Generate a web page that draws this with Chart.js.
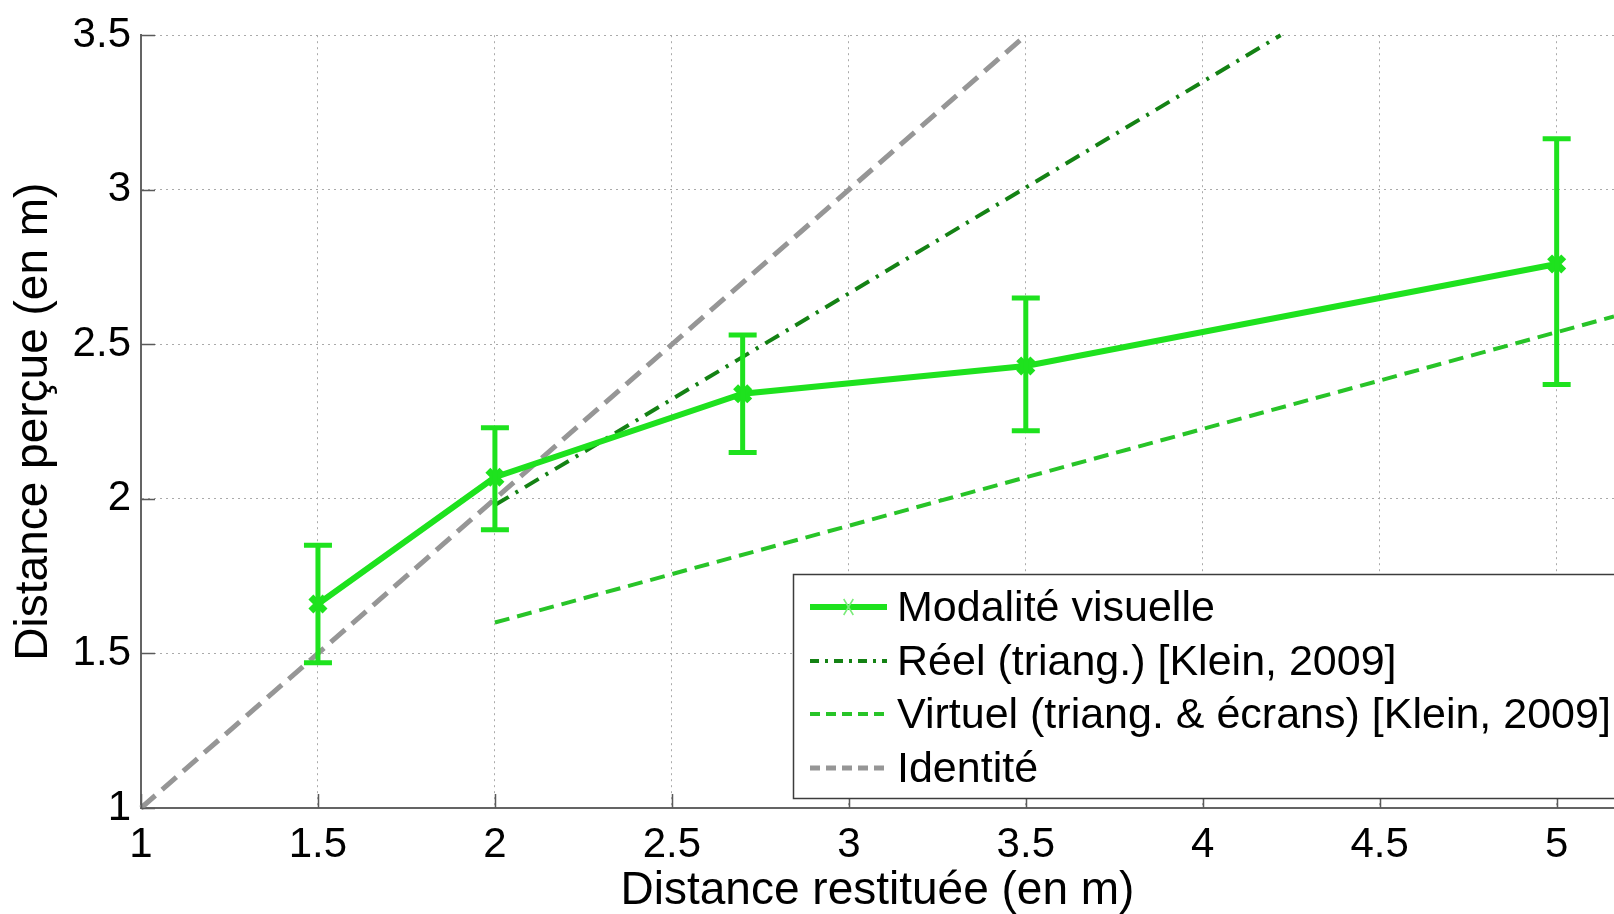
<!DOCTYPE html>
<html lang="fr">
<head>
<meta charset="utf-8">
<title>Distance perçue en fonction de la distance restituée</title>
<script src="https://cdn.jsdelivr.net/npm/chart.js@4/dist/chart.umd.min.js"></script>
<style>
  html, body { margin: 0; padding: 0; background: #ffffff; overflow: hidden; }
  #wrap { position: relative; width: 1614px; height: 914px; }
</style>
</head>
<body>
<div id="wrap"><canvas id="graphe" width="1614" height="914"></canvas></div>
<script>
// Modalité visuelle : moyennes et bornes des barres d'erreur
const distRestituee = [1.5, 2, 2.7, 3.5, 5];
const distPercue    = [1.66, 2.07, 2.34, 2.43, 2.76];
const borneBasse    = [1.47, 1.90, 2.15, 2.22, 2.37];
const borneHaute    = [1.85, 2.23, 2.53, 2.65, 3.165];

// Réel (triangulation) [Klein, 2009]
const reelX = [2, 4.22];
const reelY = [1.98, 3.5];

// Virtuel (triangulation & écrans) [Klein, 2009]
const virtuelX = [2, 5.162];
const virtuelY = [1.6, 2.59];

// Identité
const identiteX = [1, 3.5];
const identiteY = [1, 3.5];

// Graduations
const ticksX = [1, 1.5, 2, 2.5, 3, 3.5, 4, 4.5, 5];
const ticksY = [1, 1.5, 2, 2.5, 3, 3.5];

const libelles = [
  'Modalité visuelle',
  'Réel (triang.) [Klein, 2009]',
  'Virtuel (triang. & écrans) [Klein, 2009]',
  'Identité'
];

const VERT = 'rgb(30, 226, 30)';
const VERT_FONCE = 'rgb(20, 130, 20)';
const VERT_MOYEN = 'rgb(40, 196, 40)';
const GRIS = 'rgb(150, 150, 150)';
const POLICE = '"Liberation Sans", Arial, Helvetica, sans-serif';

const points = (xs, ys) => xs.map((x, i) => ({ x: x, y: ys[i] }));

// Barres d'erreur verticales avec petits chapeaux
const barresErreur = {
  id: 'barresErreur',
  afterDatasetsDraw(chart) {
    const { ctx, scales: { x, y } } = chart;
    ctx.save();
    ctx.strokeStyle = VERT;
    ctx.lineWidth = 5;
    ctx.lineCap = 'butt';
    distRestituee.forEach((d, i) => {
      const px = x.getPixelForValue(d);
      const yb = y.getPixelForValue(borneBasse[i]);
      const yh = y.getPixelForValue(borneHaute[i]);
      ctx.beginPath();
      ctx.moveTo(px, yb); ctx.lineTo(px, yh);
      ctx.moveTo(px - 14, yh); ctx.lineTo(px + 14, yh);
      ctx.moveTo(px - 14, yb); ctx.lineTo(px + 14, yb);
      ctx.stroke();
    });
    ctx.restore();
  }
};

// Graduations intérieures des axes
const graduations = {
  id: 'graduations',
  afterDraw(chart) {
    const { ctx, chartArea: a, scales: { x, y } } = chart;
    ctx.save();
    ctx.strokeStyle = 'rgb(90, 90, 90)';
    ctx.lineWidth = 1.5;
    ctx.beginPath();
    ticksX.forEach(v => {
      const px = Math.round(x.getPixelForValue(v)) + 0.5;
      ctx.moveTo(px, a.bottom); ctx.lineTo(px, a.bottom - 14);
    });
    ticksY.forEach(v => {
      const py = Math.round(y.getPixelForValue(v)) + 0.5;
      ctx.moveTo(a.left, py); ctx.lineTo(a.left + 14, py);
    });
    ctx.stroke();
    ctx.restore();
  }
};

// Légende encadrée
const legende = {
  id: 'legende',
  afterDraw(chart) {
    const { ctx } = chart;
    const gauche = 793, haut = 574, bas = 798, droite = 1640;
    ctx.save();
    ctx.fillStyle = '#ffffff';
    ctx.fillRect(gauche, haut, droite - gauche, bas - haut);
    ctx.strokeStyle = 'rgb(60, 60, 60)';
    ctx.lineWidth = 1.5;
    ctx.strokeRect(gauche + 0.5, haut + 0.5, droite - gauche, bas - haut);

    const lignesY = [607, 661, 714, 768];
    const x0 = 810, x1 = 887, xTexte = 897;
    chart.data.datasets.forEach((ds, i) => {
      const yy = lignesY[i];
      ctx.save();
      ctx.strokeStyle = ds.borderColor;
      ctx.lineWidth = ds.borderWidth;
      ctx.setLineDash(ds.legendDash || ds.borderDash || []);
      ctx.beginPath();
      ctx.moveTo(x0, yy); ctx.lineTo(x1, yy);
      ctx.stroke();
      ctx.restore();
      if (i === 0) {
        ctx.save();
        ctx.strokeStyle = 'rgb(120, 235, 120)';
        ctx.lineWidth = 1.5;
        const cx = (x0 + x1) / 2, r = 8;
        ctx.beginPath();
        ctx.moveTo(cx - r * 0.6, yy - r); ctx.lineTo(cx + r * 0.6, yy + r);
        ctx.moveTo(cx + r * 0.6, yy - r); ctx.lineTo(cx - r * 0.6, yy + r);
        ctx.stroke();
        ctx.restore();
      }
      ctx.fillStyle = '#000000';
      ctx.font = '43px ' + POLICE;
      ctx.textBaseline = 'middle';
      ctx.textAlign = 'left';
      ctx.fillText(ds.label, xTexte, yy + 2);
    });
    ctx.restore();
  }
};

new Chart(document.getElementById('graphe'), {
  type: 'line',
  data: {
    datasets: [
      {
        label: libelles[0],
        data: points(distRestituee, distPercue),
        borderColor: VERT,
        backgroundColor: VERT,
        borderWidth: 6,
        pointStyle: 'crossRot',
        pointRadius: 10,
        pointBorderWidth: 7,
        pointBorderColor: VERT,
        order: 0
      },
      {
        label: libelles[1],
        data: points(reelX, reelY),
        borderColor: VERT_FONCE,
        borderWidth: 4,
        borderDash: [16, 8, 3, 8],
        legendDash: [9, 6, 3, 6],
        pointRadius: 0,
        order: 2
      },
      {
        label: libelles[2],
        data: points(virtuelX, virtuelY),
        borderColor: VERT_MOYEN,
        borderWidth: 4,
        borderDash: [15, 8],
        legendDash: [10, 6],
        pointRadius: 0,
        order: 3
      },
      {
        label: libelles[3],
        data: points(identiteX, identiteY),
        borderColor: GRIS,
        borderWidth: 5,
        borderDash: [19, 9],
        legendDash: [10, 6],
        pointRadius: 0,
        order: 1
      }
    ]
  },
  options: {
    responsive: false,
    animation: false,
    events: [],
    clip: false,
    layout: { autoPadding: false, padding: { top: 33, right: 0, bottom: 0, left: 0 } },
    plugins: {
      legend: { display: false },
      tooltip: { enabled: false }
    },
    scales: {
      x: {
        type: 'linear',
        min: 1,
        max: 5.162,
        afterBuildTicks: (s) => { s.ticks = ticksX.map(v => ({ value: v })); },
        afterFit: (s) => { s.height = 106; s.paddingRight = 0; s.paddingLeft = 0; },
        grid: { color: 'rgb(170, 170, 170)', lineWidth: 1, drawTicks: false },
        border: { color: 'rgb(100, 100, 100)', width: 2, dash: [2, 4] },
        ticks: {
          color: '#000000',
          padding: 12,
          maxRotation: 0,
          font: { family: POLICE, size: 42 },
          callback: (v) => String(v)
        },
        title: {
          display: true,
          text: 'Distance restituée (en m)',
          color: '#000000',
          font: { family: POLICE, size: 46, lineHeight: 1 },
          padding: { top: 0, bottom: 0 }
        }
      },
      y: {
        type: 'linear',
        min: 1,
        max: 3.5,
        afterBuildTicks: (s) => { s.ticks = ticksY.map(v => ({ value: v })); },
        afterFit: (s) => { s.width = 141; },
        grid: { color: 'rgb(170, 170, 170)', lineWidth: 1, drawTicks: false },
        border: { color: 'rgb(100, 100, 100)', width: 2, dash: [2, 4] },
        ticks: {
          color: '#000000',
          padding: 10,
          font: { family: POLICE, size: 42 },
          callback: (v) => String(v)
        },
        title: {
          display: true,
          text: 'Distance perçue (en m)',
          color: '#000000',
          font: { family: POLICE, size: 46, lineHeight: 1 },
          padding: { top: 11, bottom: 0 }
        }
      }
    }
  },
  plugins: [barresErreur, graduations, legende]
});
</script>
</body>
</html>
